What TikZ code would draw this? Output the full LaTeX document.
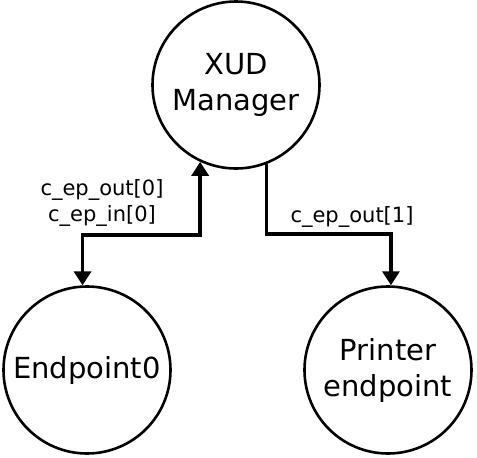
\documentclass[tikz,border=0pt]{standalone}
\usepackage{fontspec}
\setmainfont{DejaVu Sans}
\usetikzlibrary{arrows.meta}

\begin{document}
\begin{tikzpicture}[
  x=1pt, y=1pt,
  >={Triangle[width=17pt,length=14pt]},
  unit/.style={draw, circle, line width=2.6pt, minimum size=167pt, inner sep=0pt,
    align=center, font=\fontsize{29}{36}\selectfont},
  link/.style={line width=3.4pt},
  chan/.style={align=center, font=\fontsize{21}{26}\selectfont},
]
\useasboundingbox (0,0) rectangle (477,-458);
\node[unit] (xud) at (236,-85) {XUD\\Manager};
\node[unit] (ep0) at (87,-370) {Endpoint0};
\node[unit] (prn) at (388,-370) {Printer\\endpoint};
\coordinate (hopL) at (140,-235);
\coordinate (hopR) at (330,-234);
\draw[link,<->] (xud.245) |- (hopL) -| (ep0.93);
\draw[link,->] (xud.291) |- (hopR) -| (prn.88);
\node[chan] (epL) at (102,-203) {c\_ep\_out[0]\\c\_ep\_in[0]};
\node[chan] (epR) at (352,-217) {c\_ep\_out[1]};
\end{tikzpicture}
\end{document}
